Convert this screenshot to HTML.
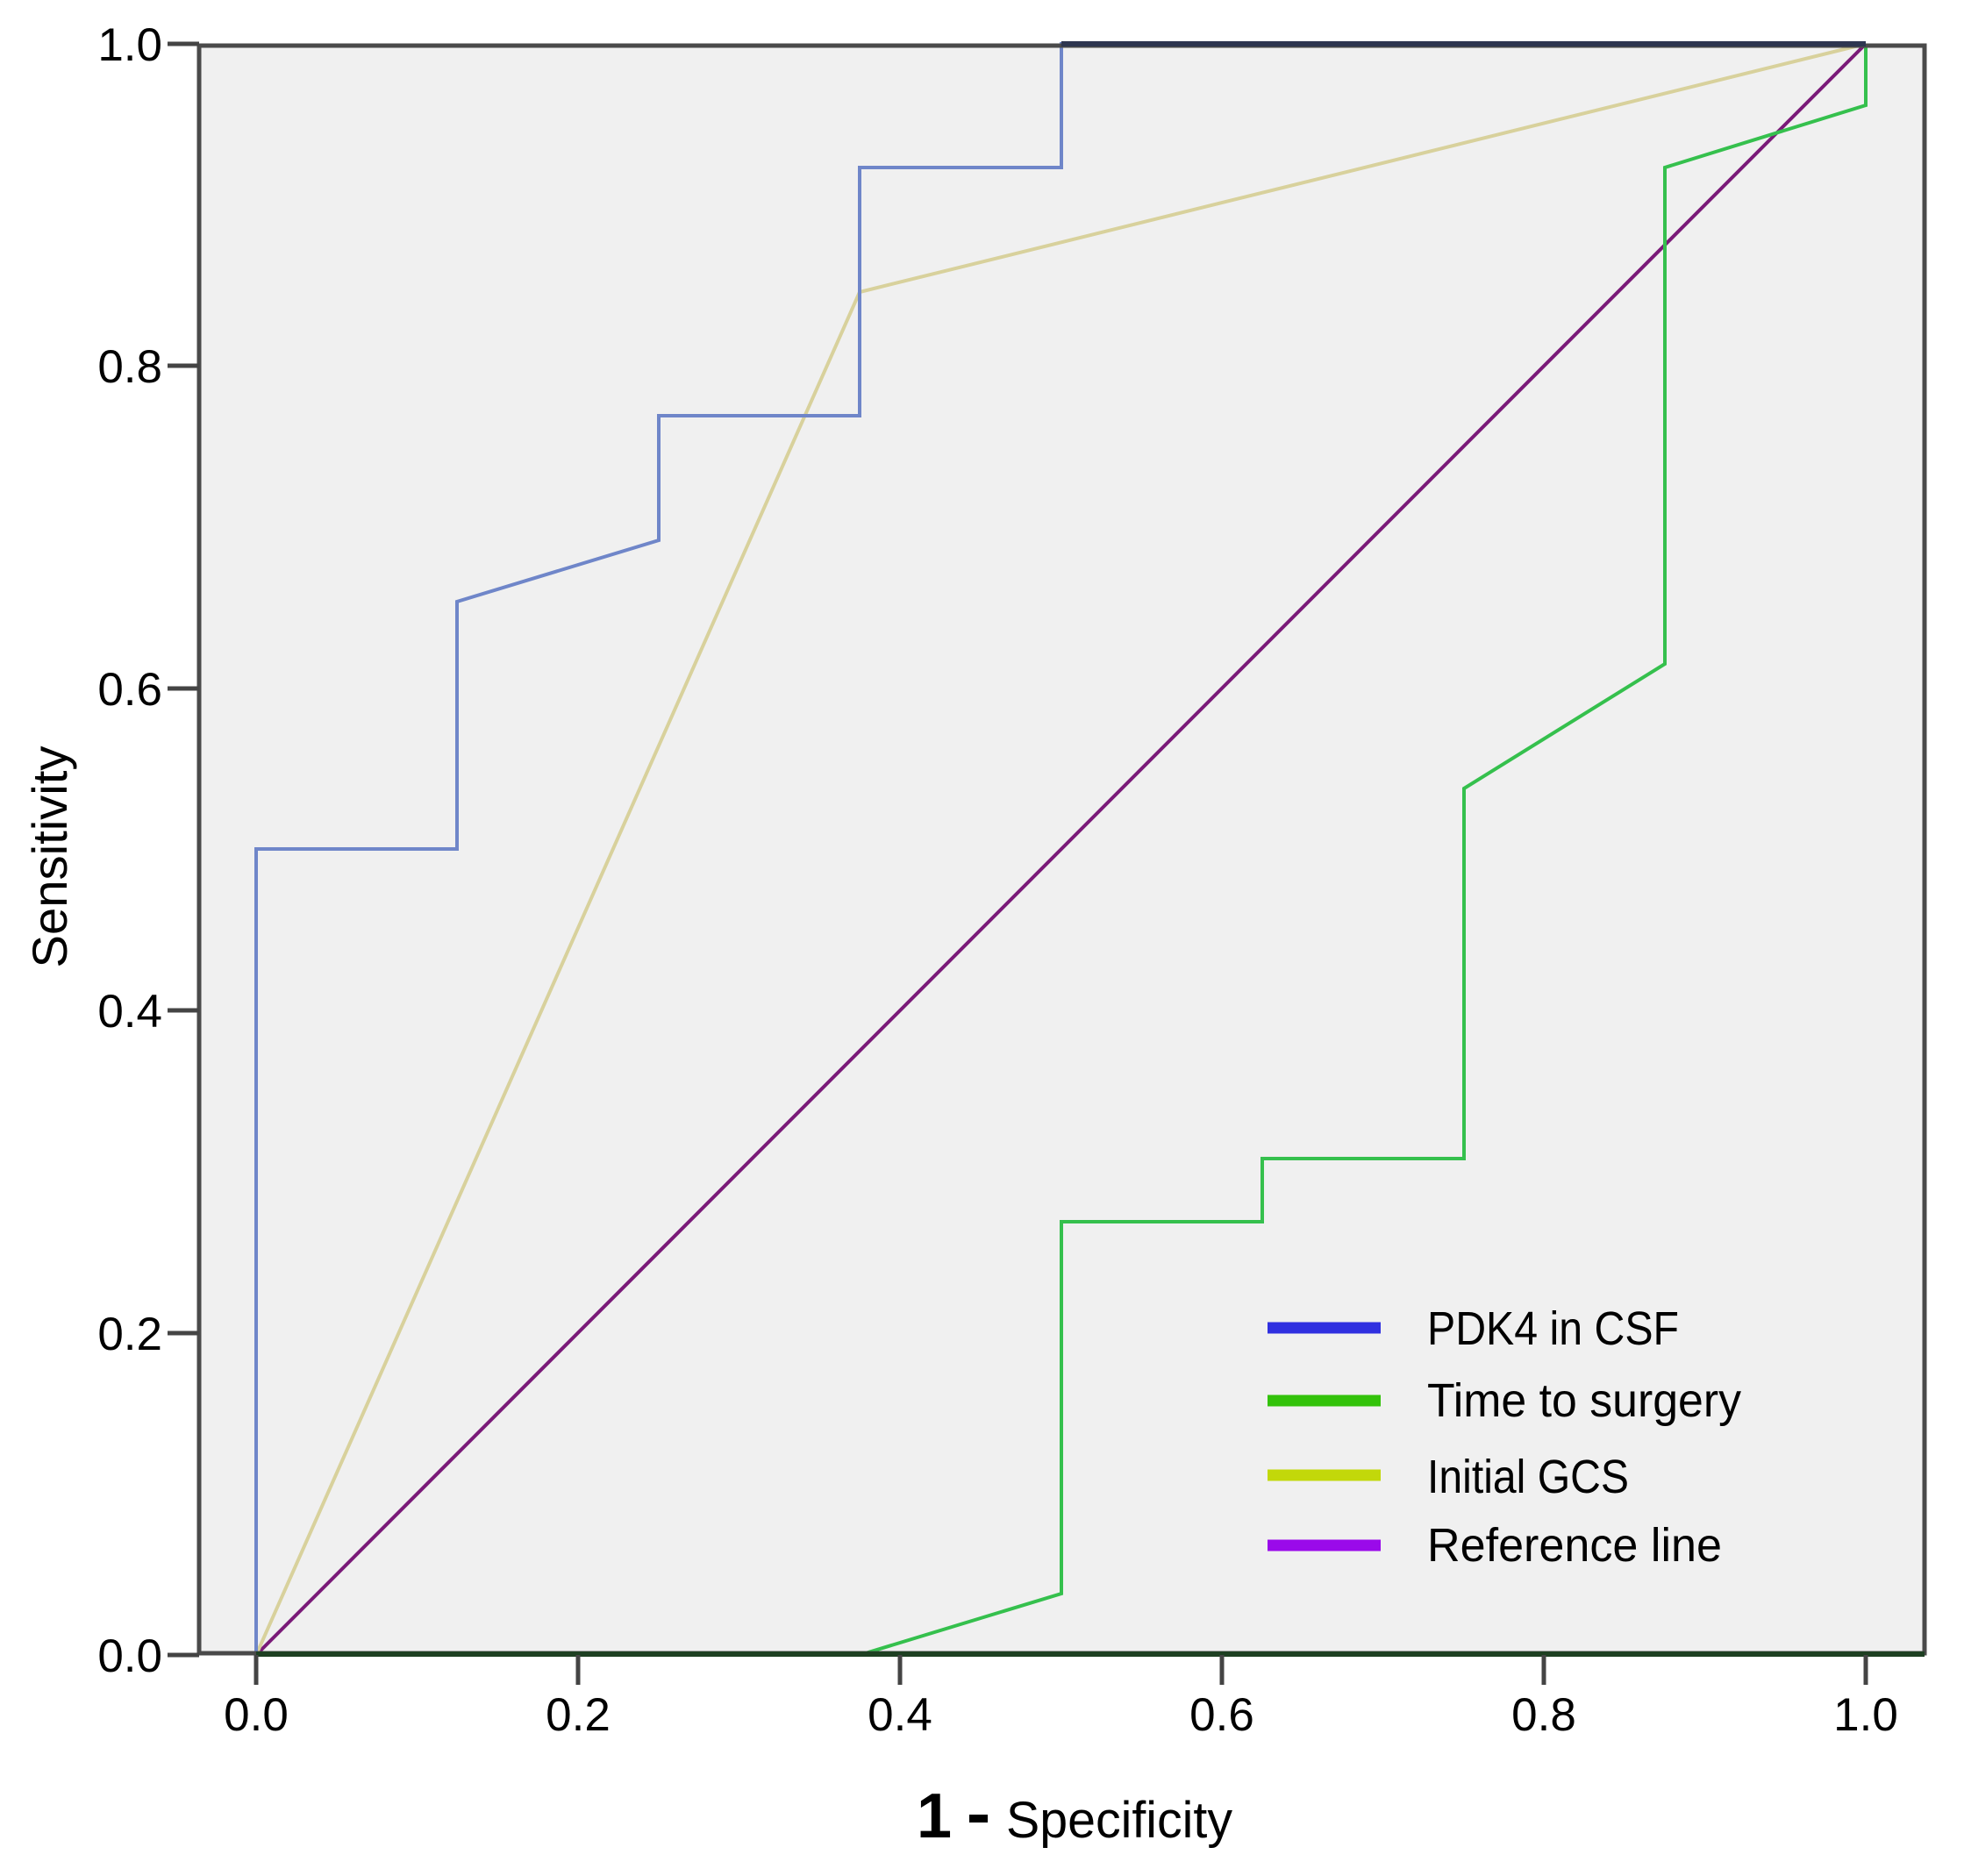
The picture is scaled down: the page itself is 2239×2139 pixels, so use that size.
<!DOCTYPE html>
<html><head><style>
html,body{margin:0;padding:0;background:#fff;}
svg text{font-family:"Liberation Sans",Arial,sans-serif;fill:#000;}
</style></head><body>
<svg width="2239" height="2134" viewBox="0 0 2239 2134" xmlns="http://www.w3.org/2000/svg">
<rect x="225" y="50" width="1971" height="1837" fill="#f0f0f0"/>
<g fill="none" stroke-linejoin="miter">
<polyline points="292,1887 2127,50" stroke="#7a1a78" stroke-width="4"/>
<polyline points="292,1887 980,333 2127,50" stroke="#d8d19c" stroke-width="4"/>
<polyline points="292,1887 980,1887 1210,1817 1210,1393 1439,1393 1439,1321 1669,1321 1669,899 1898,757 1898,191 2127,120 2127,50" stroke="#35c04d" stroke-width="4"/>
<polyline points="292,1887 292,968 521,968 521,686 751,616 751,474 980,474 980,191 1210,191 1210,50 2127,50" stroke="#6f86c9" stroke-width="4"/>
</g>
<rect x="227" y="52" width="1967" height="1833" fill="none" stroke="#4a4a4a" stroke-width="5"/>
<line x1="1210" y1="50" x2="2127" y2="50" stroke="#2e3650" stroke-width="6"/>
<line x1="292" y1="1886" x2="2194" y2="1886" stroke="#1e4022" stroke-width="6"/>
<g stroke="#444" stroke-width="5">
<line x1="191" y1="50" x2="227" y2="50"/><line x1="191" y1="417" x2="227" y2="417"/>
<line x1="191" y1="785" x2="227" y2="785"/><line x1="191" y1="1152" x2="227" y2="1152"/>
<line x1="191" y1="1520" x2="227" y2="1520"/><line x1="191" y1="1887" x2="227" y2="1887"/>
<line x1="292" y1="1887" x2="292" y2="1921"/><line x1="659" y1="1887" x2="659" y2="1921"/>
<line x1="1026" y1="1887" x2="1026" y2="1921"/><line x1="1393" y1="1887" x2="1393" y2="1921"/>
<line x1="1760" y1="1887" x2="1760" y2="1921"/><line x1="2127" y1="1887" x2="2127" y2="1921"/>
</g>
<g font-size="53" text-anchor="end">
<text x="185" y="69">1.0</text><text x="185" y="436">0.8</text><text x="185" y="804">0.6</text>
<text x="185" y="1171">0.4</text><text x="185" y="1539">0.2</text><text x="185" y="1906">0.0</text>
</g>
<g font-size="53" text-anchor="middle">
<text x="292" y="1973">0.0</text><text x="659" y="1973">0.2</text><text x="1026" y="1973">0.4</text>
<text x="1393" y="1973">0.6</text><text x="1760" y="1973">0.8</text><text x="2127" y="1973">1.0</text>
</g>
<text x="1045" y="2095" font-size="72" font-weight="bold">1</text>
<rect x="1105" y="2069" width="21" height="9" fill="#000"/>
<text x="1147" y="2095" font-size="58" textLength="258" lengthAdjust="spacingAndGlyphs">Specificity</text>
<text transform="translate(76,977) rotate(-90)" font-size="56" text-anchor="middle" textLength="253" lengthAdjust="spacingAndGlyphs">Sensitivity</text>
<g stroke-width="13">
<line x1="1445" y1="1514" x2="1574" y2="1514" stroke="#3030e0"/>
<line x1="1445" y1="1597" x2="1574" y2="1597" stroke="#33c20a"/>
<line x1="1445" y1="1682" x2="1574" y2="1682" stroke="#c2d80a"/>
<line x1="1445" y1="1762" x2="1574" y2="1762" stroke="#9a0aea"/>
</g>
<g font-size="54">
<text x="1627" y="1533" textLength="287" lengthAdjust="spacingAndGlyphs">PDK4 in CSF</text>
<text x="1627" y="1615" textLength="358" lengthAdjust="spacingAndGlyphs">Time to surgery</text>
<text x="1627" y="1702" textLength="230" lengthAdjust="spacingAndGlyphs">Initial GCS</text>
<text x="1627" y="1780" textLength="336" lengthAdjust="spacingAndGlyphs">Reference line</text>
</g>
</svg>
</body></html>
